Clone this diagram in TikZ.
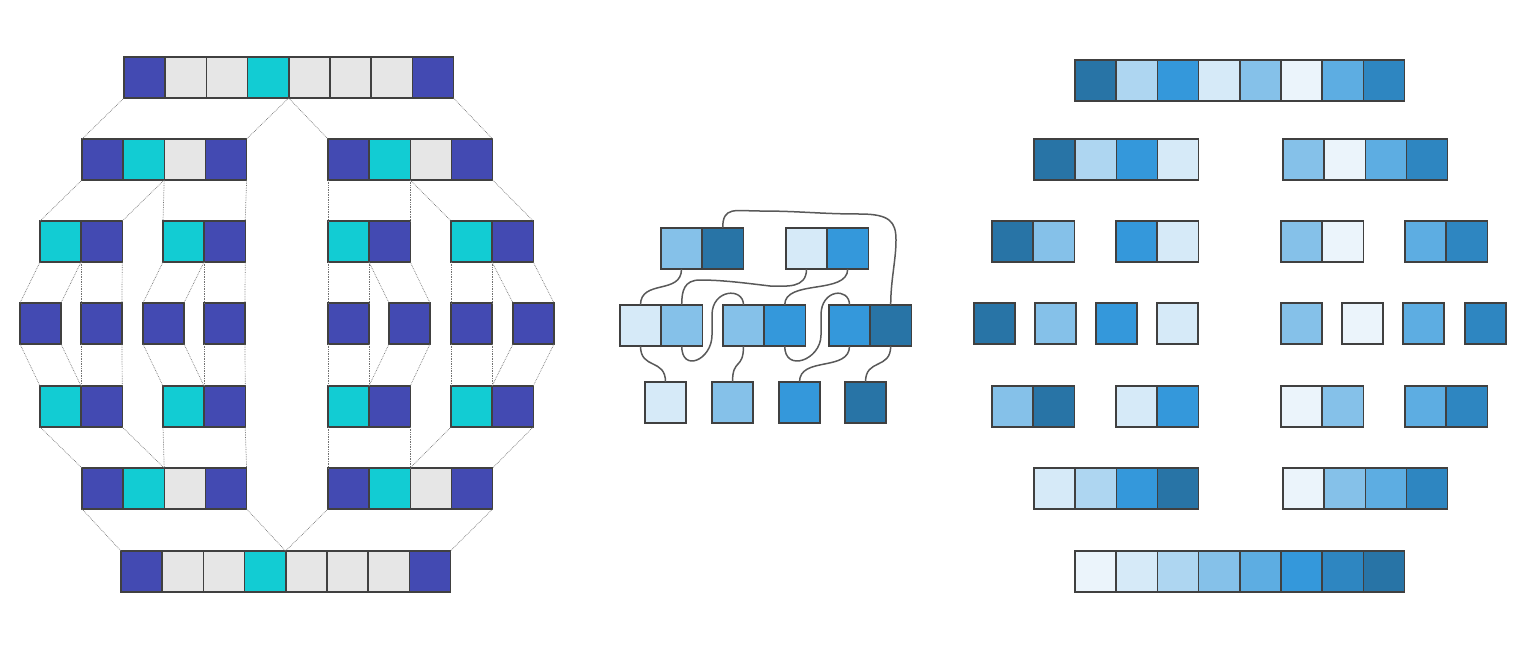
\documentclass[tikz,border=0pt]{standalone}
\usepackage{tikz}

\definecolor{sortblue}{HTML}{434AB2}
\definecolor{sortcyan}{HTML}{12CCD3}
\definecolor{sortgrey}{HTML}{E6E6E6}
\definecolor{b1}{HTML}{EBF4FB}
\definecolor{b2}{HTML}{D6EAF8}
\definecolor{b3}{HTML}{AED6F1}
\definecolor{b4}{HTML}{85C1E9}
\definecolor{b5}{HTML}{5DADE2}
\definecolor{b6}{HTML}{3498DB}
\definecolor{b7}{HTML}{2E86C1}
\definecolor{b8}{HTML}{2874A6}

% a row of cells: name, left x, top y, fill colours
\newcommand{\cells}[4]{%
  \foreach \col [count=\i] in {#4}
    \node[cell, fill=\col] (#1-\i) at ({#2+41.2*(\i-1)}, #3) {};
}
% dotted links from a row down to its two halves
\newcommand{\splitlinks}[5]{%
  \draw[link] (#1-1.south west) -- (#4-1.north west);
  \draw[link] (#1-#3.south east) -- (#4-#3.north east);
  \draw[link] (#1-#3.south east) -- (#5-1.north west);
  \draw[link] (#1-#2.south east) -- (#5-#3.north east);
}
% dotted links from two halves down to the merged row
\newcommand{\mergelinks}[5]{%
  \draw[link] (#4-1.south west) -- (#1-1.north west);
  \draw[link] (#4-#3.south east) -- (#1-#3.north east);
  \draw[link] (#5-1.south west) -- (#1-#3.north east);
  \draw[link] (#5-#3.south east) -- (#1-#2.north east);
}

\begin{document}
\begin{tikzpicture}[x=1pt, y=-1pt,
    cell/.style={draw=black!75, line width=1.4pt, minimum size=41pt, inner sep=0pt, outer sep=0pt, anchor=north west},
    link/.style={black!55, densely dotted, line width=0.7pt},
    wire/.style={black!65, line width=1.5pt}]
  \useasboundingbox (0,0) rectangle (1522,653);

  % merge sort
  \cells{s1}{124}{57}{sortblue,sortgrey,sortgrey,sortcyan,sortgrey,sortgrey,sortgrey,sortblue}
  \cells{s2l}{82}{139}{sortblue,sortcyan,sortgrey,sortblue}
  \cells{s2r}{328}{139}{sortblue,sortcyan,sortgrey,sortblue}
  \cells{s3a}{40}{221}{sortcyan,sortblue}
  \cells{s3b}{163}{221}{sortcyan,sortblue}
  \cells{s3c}{328}{221}{sortcyan,sortblue}
  \cells{s3d}{451}{221}{sortcyan,sortblue}
  \cells{s4a}{20}{303}{sortblue}
  \cells{s4b}{81}{303}{sortblue}
  \cells{s4c}{143}{303}{sortblue}
  \cells{s4d}{204}{303}{sortblue}
  \cells{s4e}{328}{303}{sortblue}
  \cells{s4f}{389}{303}{sortblue}
  \cells{s4g}{451}{303}{sortblue}
  \cells{s4h}{513}{303}{sortblue}
  \cells{s5a}{40}{386}{sortcyan,sortblue}
  \cells{s5b}{163}{386}{sortcyan,sortblue}
  \cells{s5c}{328}{386}{sortcyan,sortblue}
  \cells{s5d}{451}{386}{sortcyan,sortblue}
  \cells{s6l}{82}{468}{sortblue,sortcyan,sortgrey,sortblue}
  \cells{s6r}{328}{468}{sortblue,sortcyan,sortgrey,sortblue}
  \cells{s7}{121}{551}{sortblue,sortgrey,sortgrey,sortcyan,sortgrey,sortgrey,sortgrey,sortblue}

  \splitlinks{s1}{8}{4}{s2l}{s2r}
  \splitlinks{s2l}{4}{2}{s3a}{s3b}
  \splitlinks{s2r}{4}{2}{s3c}{s3d}
  \splitlinks{s3a}{2}{1}{s4a}{s4b}
  \splitlinks{s3b}{2}{1}{s4c}{s4d}
  \splitlinks{s3c}{2}{1}{s4e}{s4f}
  \splitlinks{s3d}{2}{1}{s4g}{s4h}
  \mergelinks{s5a}{2}{1}{s4a}{s4b}
  \mergelinks{s5b}{2}{1}{s4c}{s4d}
  \mergelinks{s5c}{2}{1}{s4e}{s4f}
  \mergelinks{s5d}{2}{1}{s4g}{s4h}
  \mergelinks{s6l}{4}{2}{s5a}{s5b}
  \mergelinks{s6r}{4}{2}{s5c}{s5d}
  \mergelinks{s7}{8}{4}{s6l}{s6r}

  % merging step
  \cells{m1a}{661}{228}{b4,b8}
  \cells{m1b}{786}{228}{b2,b6}
  \cells{m2a}{620}{305}{b2,b4}
  \cells{m2b}{723}{305}{b4,b6}
  \cells{m2c}{829}{305}{b6,b8}
  \cells{m3a}{645}{382}{b2}
  \cells{m3b}{712}{382}{b4}
  \cells{m3c}{779}{382}{b6}
  \cells{m3d}{845}{382}{b8}

  \draw[wire] (m1a-2.north) .. controls +(0,-22) and +(-25,0) .. (760,211)
    .. controls +(40,0) and +(-40,0) .. (860,214)
    .. controls +(30,0) and +(0,-18) .. (896,240)
    .. controls +(0,20) and +(0,-25) .. (m2c-2.north);
  \draw[wire] (m1a-1.south) .. controls +(0,26) and +(0,-26) .. (m2a-1.north);
  \draw[wire] (m1b-1.south) .. controls +(0,20) and +(16,0) .. (770,286)
    .. controls +(-25,-3) and +(22,0) .. (700,280)
    .. controls +(-16,0) and +(0,-14) .. (m2a-2.north);
  \draw[wire] (m1b-2.south) .. controls +(0,26) and +(0,-26) .. (m2b-2.north);
  \draw[wire] (m2a-2.south) .. controls +(0,27) and +(0,25) .. (712,335)
    -- (712,315) .. controls +(0,-26) and +(0,-18) .. (m2b-1.north);
  \draw[wire] (m2b-2.south) .. controls +(0,27) and +(0,25) .. (821,335)
    -- (821,315) .. controls +(0,-26) and +(0,-18) .. (m2c-1.north);
  \draw[wire] (m2a-1.south) .. controls +(0,24) and +(0,-24) .. (m3a-1.north);
  \draw[wire] (m2b-1.south) .. controls +(0,24) and +(0,-24) .. (m3b-1.north);
  \draw[wire] (m2c-1.south) .. controls +(0,26) and +(0,-26) .. (m3c-1.north);
  \draw[wire] (m2c-2.south) .. controls +(0,24) and +(0,-24) .. (m3d-1.north);

  % sorted halves
  \cells{r1}{1075}{60}{b8,b3,b6,b2,b4,b1,b5,b7}
  \cells{r2l}{1034}{139}{b8,b3,b6,b2}
  \cells{r2r}{1283}{139}{b4,b1,b5,b7}
  \cells{r3a}{992}{221}{b8,b4}
  \cells{r3b}{1116}{221}{b6,b2}
  \cells{r3c}{1281}{221}{b4,b1}
  \cells{r3d}{1405}{221}{b5,b7}
  \cells{r4a}{974}{303}{b8}
  \cells{r4b}{1035}{303}{b4}
  \cells{r4c}{1096}{303}{b6}
  \cells{r4d}{1157}{303}{b2}
  \cells{r4e}{1281}{303}{b4}
  \cells{r4f}{1342}{303}{b1}
  \cells{r4g}{1403}{303}{b5}
  \cells{r4h}{1465}{303}{b7}
  \cells{r5a}{992}{386}{b4,b8}
  \cells{r5b}{1116}{386}{b2,b6}
  \cells{r5c}{1281}{386}{b1,b4}
  \cells{r5d}{1405}{386}{b5,b7}
  \cells{r6l}{1034}{468}{b2,b3,b6,b8}
  \cells{r6r}{1283}{468}{b1,b4,b5,b7}
  \cells{r7}{1075}{551}{b1,b2,b3,b4,b5,b6,b7,b8}
\end{tikzpicture}
\end{document}
